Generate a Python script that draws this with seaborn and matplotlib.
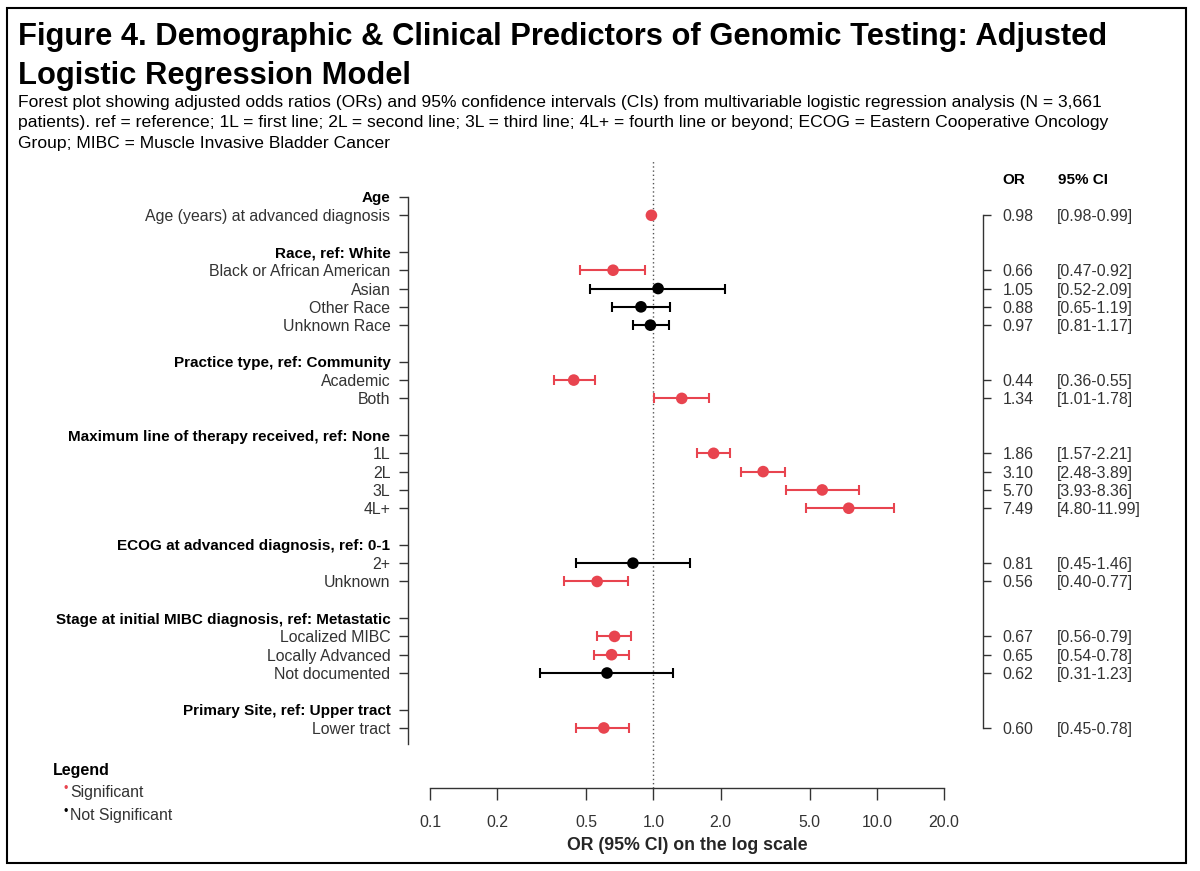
import numpy as np
import pandas as pd
import seaborn as sns
import matplotlib.pyplot as plt
import matplotlib.transforms as mtransforms
from matplotlib.patches import Rectangle
from matplotlib.ticker import NullLocator

# Model output
group_headers = [
    "Age",
    "Race, ref: White",
    "Practice type, ref: Community",
    "Maximum line of therapy received, ref: None",
    "ECOG at advanced diagnosis, ref: 0-1",
    "Stage at initial MIBC diagnosis, ref: Metastatic",
    "Primary Site, ref: Upper tract",
]
group_sizes = [1, 4, 2, 4, 2, 3, 1]
terms = [
    "Age (years) at advanced diagnosis",
    "Black or African American", "Asian", "Other Race", "Unknown Race",
    "Academic", "Both",
    "1L", "2L", "3L", "4L+",
    "2+", "Unknown",
    "Localized MIBC", "Locally Advanced", "Not documented",
    "Lower tract",
]
odds_ratio = [0.98, 0.66, 1.05, 0.88, 0.97, 0.44, 1.34, 1.86, 3.10, 5.70, 7.49,
              0.81, 0.56, 0.67, 0.65, 0.62, 0.60]
ci_low = [0.98, 0.47, 0.52, 0.65, 0.81, 0.36, 1.01, 1.57, 2.48, 3.93, 4.80,
          0.45, 0.40, 0.56, 0.54, 0.31, 0.45]
ci_high = [0.99, 0.92, 2.09, 1.19, 1.17, 0.55, 1.78, 2.21, 3.89, 8.36, 11.99,
           1.46, 0.77, 0.79, 0.78, 1.23, 0.78]
x_ticks = [0.1, 0.2, 0.5, 1.0, 2.0, 5.0, 10.0, 20.0]

RED = "#E8444F"
GREY = "#333333"
palette = {"Significant": RED, "Not Significant": "black"}

# one row per header, one per term, blank row between groups
header_rows, term_rows = [], []
row = 0
for size in group_sizes:
    header_rows.append(row)
    term_rows.extend(range(row + 1, row + 1 + size))
    row += size + 2

df = pd.DataFrame({"term": terms, "OR": odds_ratio, "low": ci_low,
                   "high": ci_high, "row": term_rows})
df["sig"] = np.where((df["low"] > 1) | (df["high"] < 1), "Significant", "Not Significant")

sns.set_theme(style="ticks")
plt.rcParams["font.family"] = ["Liberation Sans", "DejaVu Sans"]
plt.rcParams["text.color"] = "black"
FS = 11.4

W, H = 1200, 871
fig = plt.figure(figsize=(12, 8.71), dpi=100)
ax = fig.add_axes([430 / W, 1 - 788 / H, 514 / W, 628 / H])
ax.set_xscale("log")

for sig, color in palette.items():
    sub = df[df["sig"] == sig]
    ax.errorbar(sub["OR"], sub["row"], xerr=[sub["OR"] - sub["low"], sub["high"] - sub["OR"]],
                fmt="none", ecolor=color, elinewidth=1.5, capsize=3.3, capthick=1.5, zorder=2)
sns.scatterplot(data=df, x="OR", y="row", hue="sig", palette=palette, s=70,
                edgecolor="none", legend=False, ax=ax, zorder=3)
ax.axvline(1, color="#555555", ls=(0, (1, 2)), lw=1, zorder=1)

ax.set_xlim(0.1, 20)
ax.set_ylim(32.28, -2.02)
ax.set_xticks(x_ticks)
ax.set_xticklabels([f"{t:.1f}" for t in x_ticks])
ax.xaxis.set_minor_locator(NullLocator())
ax.set_xlabel("OR (95% CI) on the log scale", fontsize=12.8, fontweight="bold", labelpad=5)
ax.set_ylabel("")

# left labels: headers (bold, ticked) and terms
labels = sorted([(r, t, True) for r, t in zip(header_rows, group_headers)] +
                [(r, t, False) for r, t in zip(term_rows, terms)])
ax.set_yticks([l[0] for l in labels])
ax.set_yticklabels([l[1] for l in labels])

ax.tick_params(axis="y", length=6.5, width=1, pad=6.5, color=GREY, labelsize=FS, labelcolor=GREY)
ax.tick_params(axis="x", length=8.5, width=1, pad=11, color=GREY, labelsize=FS, labelcolor=GREY)
for s in ["top", "right"]:
    ax.spines[s].set_visible(False)
ax.spines["left"].set_position(("outward", 15.5))
ax.spines["left"].set_bounds(0, 29.9)
for s in ["left", "bottom"]:
    ax.spines[s].set_color(GREY)
    ax.spines[s].set_linewidth(1)

for tick, lab, (_, _, is_header) in zip(ax.yaxis.get_major_ticks(), ax.get_yticklabels(), labels):
    if is_header:
        lab.set_fontweight("bold")
        lab.set_fontsize(11)
        lab.set_color("black")
    else:
        tick.tick1line.set_visible(False)

# right axis with OR values
ax2 = ax.twinx()
ax2.set_ylim(ax.get_ylim())
ax2.set_yticks(term_rows)
ax2.set_yticklabels([f"{v:.2f}" for v in odds_ratio])
ax2.tick_params(axis="y", length=6, width=1, pad=8, color=GREY, labelsize=FS, labelcolor=GREY)
for s in ["left", "top", "bottom"]:
    ax2.spines[s].set_visible(False)
ax2.spines["right"].set_position(("outward", 28))
ax2.spines["right"].set_bounds(1, 29)
ax2.spines["right"].set_color(GREY)
ax2.spines["right"].set_linewidth(1)

trans = mtransforms.blended_transform_factory(ax.transAxes, ax.transData)
ax.text((1002 - 430) / 514, -1, "OR", transform=trans, fontsize=11, fontweight="bold",
        va="center_baseline", ha="left")
ax.text((1058 - 430) / 514, -1, "95% CI", transform=trans, fontsize=11, fontweight="bold",
        va="center_baseline", ha="left")
for r, lo, hi in zip(term_rows, ci_low, ci_high):
    ax.text((1057 - 430) / 514, r, f"[{lo:.2f}-{hi:.2f}]", transform=trans,
            fontsize=FS, color=GREY, va="center_baseline", ha="left")

# title block
fig.text(18 / W, 1 - 44.5 / H, "Figure 4. Demographic & Clinical Predictors of Genomic Testing: Adjusted",
         fontsize=22.2, fontweight="bold", va="baseline")
fig.text(18 / W, 1 - 84 / H, "Logistic Regression Model",
         fontsize=22.2, fontweight="bold", va="baseline")
subtitle = [
    "Forest plot showing adjusted odds ratios (ORs) and 95% confidence intervals (CIs) from multivariable logistic regression analysis (N = 3,661",
    "patients). ref = reference; 1L = first line; 2L = second line; 3L = third line; 4L+ = fourth line or beyond; ECOG = Eastern Cooperative Oncology",
    "Group; MIBC = Muscle Invasive Bladder Cancer",
]
for i, line in enumerate(subtitle):
    fig.text(18 / W, 1 - (107 + 20.5 * i) / H, line, fontsize=12.6, va="baseline")

# legend
fig.text(53 / W, 1 - 770 / H, "Legend", fontsize=11.5, fontweight="bold", va="center")
for i, (name, color) in enumerate(palette.items()):
    y = 792 + 23 * i
    fig.text(64 / W, 1 - (y - 3) / H, "\u2022", fontsize=9, color=color, va="center")
    fig.text(70 / W, 1 - y / H, name, fontsize=FS, color=GREY, va="center")

fig.add_artist(Rectangle((7 / W, 1 - 863 / H), (1186 - 7) / W, (863 - 8) / H,
                         transform=fig.transFigure, fill=False, lw=1.5, ec="black"))

fig.savefig("out.png", dpi=100)
